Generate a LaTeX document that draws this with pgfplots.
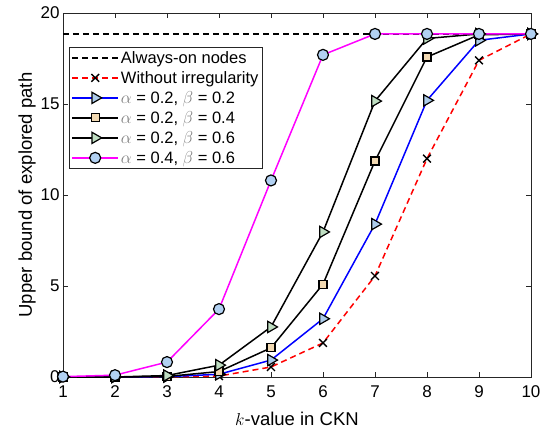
\documentclass[border=0pt]{standalone}
\usepackage{pgfplots}
\pgfplotsset{compat=1.18}
\usepackage{fontspec}
\setmainfont{Liberation Sans}
\definecolor{fblue}{rgb}{0.68,0.8,0.92}
\definecolor{fsq}{rgb}{0.95,0.85,0.7}
\definecolor{fgreen}{rgb}{0.75,0.87,0.76}
\definecolor{fcirc}{rgb}{0.7,0.82,0.95}
\definecolor{axc}{rgb}{0.15,0.15,0.15}
\definecolor{mmag}{rgb}{1,0,1}
\definecolor{mred}{rgb}{1,0,0}
\definecolor{mblue}{rgb}{0,0,1}
\begin{document}
\begin{tikzpicture}
\useasboundingbox (-63pt,-55pt) rectangle (484pt,377pt);
\begin{axis}[
  at={(0,0)}, anchor=south west,
  scale only axis, width=468pt, height=364pt,
  xmin=1, xmax=10, ymin=0, ymax=20,
  xtick={1,...,10}, ytick={0,5,10,15,20},
  tick align=inside, major tick length=5pt,
  axis line style={axc, line width=0.7pt},
  every tick/.style={axc, line width=0.7pt},
  tick label style={font=\fontsize{17}{19}\selectfont, text=black},
  xticklabel style={yshift=-5pt},
  /pgf/number format/assume math mode=true,
  xlabel={\fontsize{18.5}{20}\selectfont $k$-value in CKN},
  ylabel={\fontsize{18.5}{20}\selectfont Upper bound of explored path},
  xlabel style={yshift=-8pt},
  ylabel style={yshift=-2pt},
  clip=false,
  legend cell align=left,
  legend style={at={(rel axis cs:0.013,0.907)}, anchor=north west,
    font=\fontsize{16.5}{18}\selectfont, draw=axc, line width=0.7pt,
    inner sep=2pt, row sep=2.5pt},
]
\addplot[black, line width=1.5pt, dash pattern=on 6pt off 4pt, mark=none,
  legend image code/.code={\draw[black, line width=1.5pt, dash pattern=on 6pt off 4pt] (0pt,0pt) -- (46pt,0pt);}]
  coordinates {(1,18.85) (10,18.85)};
\addlegendentry{Always-on nodes}
\addplot[mred, line width=1.5pt, dash pattern=on 6pt off 4pt, mark=x, mark size=5.5pt, mark options={solid, black, line width=1.4pt},
  legend image code/.code={\draw[mred, line width=1.5pt, dash pattern=on 6pt off 4pt] (0pt,0pt) -- (46pt,0pt);
    \draw[black, line width=1.4pt] plot[mark=x, mark size=5.5pt] coordinates {(23pt,0pt)};}]
  coordinates {
(1,0) (2,0) (3,0.01) (4,0.05) (5,0.55) (6,1.87) (7,5.55) (8,12.0) (9,17.4) (10,18.85)};
\addlegendentry{Without irregularity}
\addplot[mblue, line width=1.5pt, mark=triangle*, mark size=6.5pt, mark options={solid, rotate=-90, fill=fblue, draw=black, line width=1.2pt},
  legend image code/.code={\draw[mblue, line width=1.5pt] (0pt,0pt) -- (46pt,0pt);
    \draw[black, fill=fblue, line width=1.2pt] plot[mark=triangle*, mark size=6.5pt, mark options={rotate=-90}] coordinates {(23pt,0pt)};}]
  coordinates {
(1,0) (2,0) (3,0.02) (4,0.15) (5,0.93) (6,3.2) (7,8.4) (8,15.2) (9,18.5) (10,18.85)};
\addlegendentry{\textcolor{gray}{$\alpha$} = 0.2, \textcolor{gray}{$\beta$} = 0.2}
\addplot[black, line width=1.5pt, mark=square*, mark size=4pt, mark options={solid, fill=fsq, draw=black, line width=1.2pt},
  legend image code/.code={\draw[black, line width=1.5pt] (0pt,0pt) -- (46pt,0pt);
    \draw[black, fill=fsq, line width=1.2pt] plot[mark=square*, mark size=4pt] coordinates {(23pt,0pt)};}]
  coordinates {
(1,0) (2,0) (3,0.03) (4,0.3) (5,1.6) (6,5.1) (7,11.87) (8,17.58) (9,18.8) (10,18.85)};
\addlegendentry{\textcolor{gray}{$\alpha$} = 0.2, \textcolor{gray}{$\beta$} = 0.4}
\addplot[black, line width=1.5pt, mark=triangle*, mark size=6.5pt, mark options={solid, rotate=-90, fill=fgreen, draw=black, line width=1.2pt},
  legend image code/.code={\draw[black, line width=1.5pt] (0pt,0pt) -- (46pt,0pt);
    \draw[black, fill=fgreen, line width=1.2pt] plot[mark=triangle*, mark size=6.5pt, mark options={rotate=-90}] coordinates {(23pt,0pt)};}]
  coordinates {
(1,0) (2,0) (3,0.08) (4,0.65) (5,2.75) (6,7.97) (7,15.16) (8,18.6) (9,18.85) (10,18.85)};
\addlegendentry{\textcolor{gray}{$\alpha$} = 0.2, \textcolor{gray}{$\beta$} = 0.6}
\addplot[mmag, line width=1.5pt, mark=*, mark size=5.5pt, mark options={solid, fill=fcirc, draw=black, line width=1.2pt},
  legend image code/.code={\draw[mmag, line width=1.5pt] (0pt,0pt) -- (46pt,0pt);
    \draw[black, fill=fcirc, line width=1.2pt] plot[mark=*, mark size=5.5pt] coordinates {(23pt,0pt)};}]
  coordinates {
(1,0.02) (2,0.1) (3,0.82) (4,3.73) (5,10.8) (6,17.7) (7,18.85) (8,18.85) (9,18.85) (10,18.85)};
\addlegendentry{\textcolor{gray}{$\alpha$} = 0.4, \textcolor{gray}{$\beta$} = 0.6}
\end{axis}
\end{tikzpicture}
\end{document}
